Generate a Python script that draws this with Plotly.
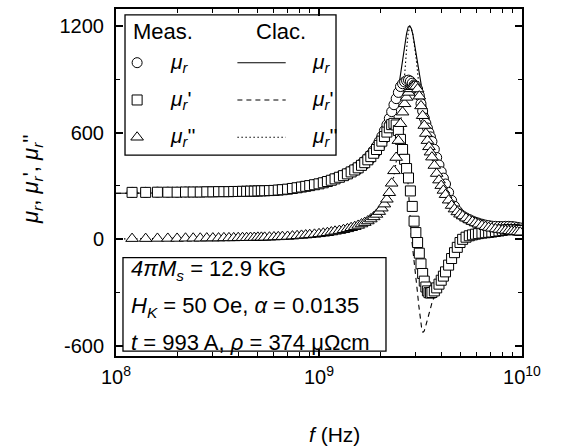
import plotly.graph_objects as go

# ---- measured sweep (frequency in GHz) ----
f_meas = [0.12, 0.14, 0.16, 0.18, 0.20, 0.22, 0.24, 0.26, 0.28, 0.30, 0.32, 0.34, 0.36, 0.38, 0.40,
          0.42, 0.44, 0.46, 0.48, 0.50, 0.52, 0.54,
          0.57, 0.60, 0.63, 0.66, 0.70, 0.74, 0.78, 0.82, 0.86, 0.90,
          0.95, 1.00, 1.05, 1.10, 1.15, 1.20,
          1.26, 1.32, 1.38, 1.44, 1.50, 1.56, 1.62, 1.68, 1.74, 1.80, 1.86, 1.92, 1.98, 2.04,
          2.10, 2.16, 2.22, 2.28, 2.34, 2.40, 2.46, 2.52, 2.58, 2.64, 2.70, 2.76, 2.82, 2.88, 2.94,
          3.00, 3.06, 3.12, 3.18, 3.24, 3.30, 3.36, 3.42, 3.48, 3.54, 3.60,
          3.70, 3.80, 3.90, 4.00, 4.10, 4.20,
          4.35, 4.50, 4.65, 4.80, 4.95,
          5.10, 5.30, 5.50, 5.70, 5.90, 6.10,
          6.35, 6.60, 6.85, 7.10,
          7.40, 7.70, 8.00, 8.30, 8.60, 8.90, 9.20, 9.50, 9.80]

# |mu_r| (circles)
mu_abs_meas = [264, 264, 265, 265, 265, 266, 266, 266, 267, 267, 268, 268, 268, 269, 269,
               270, 270, 271, 271, 272, 273, 273,
               274, 275, 277, 279, 282, 287, 291, 295, 299, 303,
               308, 314, 320, 327, 335, 343,
               352, 362, 373, 385, 396, 410, 425, 441, 459, 479, 500, 524, 551, 579,
               611, 644, 680, 718, 757, 791, 826, 859, 875, 885, 892, 895, 889, 878, 868,
               861, 845, 809, 763, 721, 682, 653, 626, 600, 576, 550,
               506, 460, 418, 380, 344, 311,
               264, 219, 186, 160, 142,
               131, 120, 111, 103, 96, 91,
               85, 80, 77, 74,
               73, 72, 72, 73, 73, 72, 70, 67, 64]

# mu_r' (squares)
mu_re_meas = [264, 264, 265, 265, 265, 266, 266, 266, 267, 267, 268, 268, 268, 269, 269,
              270, 270, 271, 271, 272, 273, 273,
              274, 275, 277, 279, 282, 286, 290, 294, 298, 302,
              307, 312, 318, 325, 332, 340,
              349, 358, 368, 379, 390, 402, 416, 431, 447, 465, 484, 505, 528, 552,
              578, 603, 627, 645, 652, 643, 612, 562, 505, 450, 398, 345, 272, 185, 102,
              38, -18, -78, -138, -192, -235, -268, -290, -300, -302, -299,
              -290, -273, -252, -230, -207, -183,
              -145, -108, -75, -45, -18,
              0, 12, 20, 25, 29, 32,
              35, 37, 39, 41,
              44, 47, 50, 53, 55, 55, 54, 52, 50]

# mu_r'' (triangles)
mu_im_meas = [4, 4, 5, 5, 5, 6, 6, 6, 7, 7, 7, 8, 8, 8, 9,
              9, 9, 10, 10, 11, 11, 11,
              12, 13, 14, 15, 16, 18, 20, 22, 24, 26,
              28, 31, 34, 37, 41, 45,
              49, 54, 59, 65, 71, 78, 86, 94, 103, 114, 126, 140, 156, 175,
              198, 225, 262, 315, 385, 460, 555, 650, 715, 762, 798, 826, 846, 858, 862,
              860, 845, 805, 750, 695, 640, 595, 555, 520, 490, 462,
              415, 370, 333, 302, 275, 251,
              220, 190, 170, 154, 141,
              131, 119, 109, 100, 92, 85,
              78, 71, 66, 62,
              58, 55, 52, 50, 48, 46, 44, 42, 40]

# ---- calculated curves (frequency in GHz) ----
f_calc = [0.1, 0.2, 0.3, 0.5, 0.7, 1.0, 1.2, 1.4, 1.6, 1.8, 2.0, 2.1, 2.2, 2.3, 2.4, 2.45,
          2.5, 2.55, 2.6, 2.65, 2.7, 2.75, 2.8, 2.85, 2.9, 2.95, 3.0, 3.05, 3.1, 3.15, 3.2,
          3.25, 3.3, 3.35, 3.4, 3.5, 3.6, 3.7, 3.8, 4.0, 4.2, 4.5, 5.0, 5.5, 6.0, 7.0, 8.0,
          9.0, 10.0]
mu_abs_calc = [259, 260, 262, 267, 275, 295, 314, 340, 376, 425, 497, 546, 607, 682, 779, 836,
               899, 965, 1035, 1100, 1156, 1194, 1201, 1185, 1152, 1103, 1051, 998, 945, 896, 857,
               827, 791, 748, 706, 636, 575, 519, 463, 380, 311, 226, 142, 109, 90, 74, 67,
               62, 58]
mu_re_calc = [259, 260, 262, 267, 275, 294, 312, 337, 370, 415, 476, 515, 560, 608, 655, 672,
              680, 671, 636, 563, 445, 290, 120, 20, -60, -130, -210, -290, -370, -440, -495,
              -524, -515, -490, -460, -405, -358, -320, -285, -235, -185, -115, -25, 15, 30, 40, 42,
              42, 40]
mu_im_calc = [2, 4, 6, 10, 15, 25, 34, 46, 65, 93, 142, 180, 233, 309, 422, 497,
              588, 694, 816, 945, 1067, 1158, 1195, 1185, 1150, 1095, 1030, 955, 870, 780, 700,
              640, 600, 565, 535, 490, 450, 408, 365, 298, 250, 195, 140, 108, 85, 62, 52,
              46, 42]

# ---- axis ticks ----
x_tickvals = [1e8, 1e9, 1e10]
x_ticktext = ["10<sup>8</sup>", "10<sup>9</sup>", "10<sup>10</sup>"]
y_tickvals = [-600, 0, 600, 1200]
y_ticktext = ["-600", "0", "600", "1200"]
y_minor = [-300, 300, 900]

MU = "<i>\u03bc</i><sub><i>r</i></sub>"
FONT = "Liberation Sans, Arial, Helvetica, sans-serif"
DASH = "5px,4px"
DOT = "1.5px,2.5px"


def hz(values):
    return [v * 1e9 for v in values]


fig = go.Figure()

# calculated curves sit underneath the measured markers
fig.add_trace(go.Scatter(x=hz(f_calc), y=mu_abs_calc, mode="lines",
                         line=dict(color="black", width=1.1)))
fig.add_trace(go.Scatter(x=hz(f_calc), y=mu_re_calc, mode="lines",
                         line=dict(color="black", width=1.1, dash=DASH)))
fig.add_trace(go.Scatter(x=hz(f_calc), y=mu_im_calc, mode="lines",
                         line=dict(color="black", width=1.1, dash=DOT)))

meas_style = [
    (mu_abs_meas, "circle", 10),
    (mu_re_meas, "square", 10),
    (mu_im_meas, "triangle-up", 11),
]
for ys, sym, size in meas_style:
    fig.add_trace(go.Scatter(
        x=hz(f_meas), y=ys, mode="markers",
        marker=dict(symbol=sym, size=size, color="white",
                    line=dict(color="black", width=1)),
    ))

# ---- legend glyphs on an overlay axis spanning the plot area (0..1) ----
leg_rows = [0.8453, 0.7378, 0.6304]
leg_marker_x = 0.052
leg_line_x = [0.299, 0.418]
for row, (sym, size) in zip(leg_rows, [("circle", 10), ("square", 10), ("triangle-up", 11)]):
    fig.add_trace(go.Scatter(
        x=[leg_marker_x], y=[row], xaxis="x2", yaxis="y2", mode="markers",
        marker=dict(symbol=sym, size=size, color="white", line=dict(color="black", width=1)),
    ))
for row, dash in zip(leg_rows, ["solid", DASH, DOT]):
    fig.add_trace(go.Scatter(
        x=leg_line_x, y=[row, row], xaxis="x2", yaxis="y2", mode="lines",
        line=dict(color="black", width=1.1, dash=dash),
    ))

shapes = [
    # legend frame
    dict(type="rect", xref="paper", yref="paper", x0=0.0222, x1=0.5419, y0=0.5788, y1=0.9828,
         line=dict(color="black", width=1.3), fillcolor="white", layer="below"),
    # parameter frame
    dict(type="rect", xref="paper", yref="paper", x0=0.0172, x1=0.665, y0=0.0143, y1=0.2837,
         line=dict(color="black", width=1.3), fillcolor="white", layer="below"),
]

annotations = [
    dict(text="Meas.", x=0.037, y=0.9355, xanchor="left", yanchor="middle", font=dict(size=22)),
    dict(text="Clac.", x=0.339, y=0.9355, xanchor="left", yanchor="middle", font=dict(size=22)),
]
primes = ["", "'", "''"]
for row, pr in zip(leg_rows, primes):
    annotations.append(dict(text=MU + pr, x=0.128, y=row, xanchor="left", yanchor="middle",
                            font=dict(size=21)))
    annotations.append(dict(text=MU + pr, x=0.478, y=row, xanchor="left", yanchor="middle",
                            font=dict(size=21)))

param_lines = [
    "<i>4\u03c0M</i><sub><i>s</i></sub> = 12.9 kG",
    "<i>H</i><sub><i>K</i></sub> = 50 Oe, <i>\u03b1</i> = 0.0135",
    "<i>t</i> = 993 A, <i>\u03c1</i> = 374 \u03bc\u03a9cm",
]
for yy, txt in zip([0.2464, 0.1404, 0.0401], param_lines):
    annotations.append(dict(text=txt, x=0.032, y=yy, xanchor="left", yanchor="middle",
                            font=dict(size=22)))

# axis titles
annotations.append(dict(text="<i>f</i> (Hz)", x=0.537, y=-0.225, xanchor="center",
                        yanchor="middle", font=dict(size=21)))
annotations.append(dict(text=MU + ", " + MU + "', " + MU + "''", x=-0.207, y=0.51,
                        xanchor="center", yanchor="middle", textangle=-90, font=dict(size=22)))

for a in annotations:
    a.update(xref="paper", yref="paper", showarrow=False)

axis_common = dict(showline=True, linewidth=2, linecolor="black", mirror="ticks",
                   ticks="inside", ticklen=7, tickwidth=1.5, tickcolor="black",
                   showgrid=False, zeroline=False, tickfont=dict(size=20, color="black"))

fig.update_layout(
    width=582, height=448,
    margin=dict(l=116, r=60, t=7, b=92),
    paper_bgcolor="white", plot_bgcolor="white",
    showlegend=False,
    font=dict(family=FONT, size=20, color="black"),
    xaxis=dict(type="log", range=[8, 10], tickmode="array", tickvals=x_tickvals,
               ticktext=x_ticktext, ticklabelstandoff=2,
               minor=dict(ticks="inside", ticklen=4, tickwidth=1, tickcolor="black", dtick="D1"),
               **axis_common),
    yaxis=dict(range=[-656, 1295], tickmode="array", tickvals=y_tickvals, ticktext=y_ticktext,
               ticklabelstandoff=6,
               minor=dict(ticks="inside", ticklen=4, tickwidth=1, tickcolor="black",
                          tickmode="array", tickvals=y_minor),
               **axis_common),
    xaxis2=dict(overlaying="x", range=[0, 1], visible=False),
    yaxis2=dict(overlaying="y", range=[0, 1], visible=False),
    shapes=shapes,
    annotations=annotations,
)

fig.write_html("out.html", config={"displayModeBar": False})
